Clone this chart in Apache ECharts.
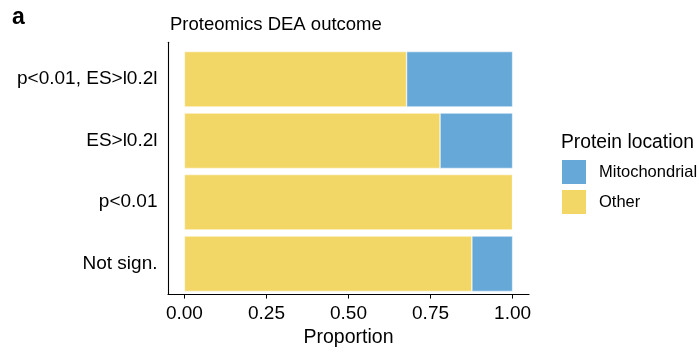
<!DOCTYPE html>
<html>
<head>
<meta charset="utf-8">
<script src="https://cdn.jsdelivr.net/npm/echarts@6/dist/echarts.min.js"></script>
<style>html,body{margin:0;padding:0;background:#fff}#c{width:699px;height:353px}</style>
</head>
<body>
<div id="c"></div>
<script>
// Data (categories listed bottom to top)
var categories = ['Not sign.', 'p<0.01', 'ES>l0.2l', 'p<0.01, ES>l0.2l'];
var otherValues = [0.876, 1.0, 0.779, 0.677];
var mitoValues = [0.124, 0.0, 0.221, 0.323];
var xTicks = [0, 0.25, 0.5, 0.75, 1.0];
var seriesNames = ['Mitochondrial', 'Other'];
var colors = { 'Mitochondrial': '#66A9D9', 'Other': '#F3D766' };

var FONT = '"Liberation Sans", Arial, Helvetica, sans-serif';
var chart = echarts.init(document.getElementById('c'), null, { renderer: 'canvas' });

var option = {
  animation: false,
  backgroundColor: '#ffffff',
  textStyle: { fontFamily: FONT, color: '#000' },
  title: [
    { text: 'a', left: 12, top: 6, padding: 0, textStyle: { fontFamily: FONT, fontSize: 23, fontWeight: 'bold', color: '#000' } },
    { text: 'Proteomics DEA outcome', left: 170, top: 15, padding: 0, textStyle: { fontFamily: FONT, fontSize: 18.5, fontWeight: 'normal', color: '#000' } },
    { text: 'Protein location', left: 561, top: 133, padding: 0, textStyle: { fontFamily: FONT, fontSize: 19.3, fontWeight: 'normal', color: '#000' } }
  ],
  legend: {
    data: seriesNames,
    orient: 'vertical',
    left: 560,
    top: 158,
    padding: 0,
    itemWidth: 26,
    itemHeight: 26,
    itemGap: 2,
    icon: 'rect',
    textStyle: { fontFamily: FONT, fontSize: 16.5, color: '#000', padding: [0, 0, 0, 7] }
  },
  grid: [
    { left: 168, right: 170, top: 48.5, bottom: 58.5, containLabel: false },
    { left: 168, right: 170, top: 42.3, bottom: 52.3, containLabel: false }
  ],
  xAxis: [
    { gridIndex: 0, type: 'value', min: -0.05, max: 1.05, show: false },
    {
      gridIndex: 1, type: 'value', min: -0.05, max: 1.05,
      axisLine: { show: true, onZero: false, lineStyle: { color: '#000', width: 1.1 } },
      axisTick: { show: true, length: 4.5, lineStyle: { color: '#000', width: 1 }, customValues: xTicks },
      axisLabel: { show: true, customValues: xTicks, fontFamily: FONT, fontSize: 19, color: '#000', margin: 10,
        formatter: function (v) { return v.toFixed(2); } },
      splitLine: { show: false },
      name: 'Proportion', nameLocation: 'middle', nameGap: 31,
      nameTextStyle: { fontFamily: FONT, fontSize: 19.5, color: '#000' }
    }
  ],
  yAxis: [
    {
      gridIndex: 0, type: 'category', data: categories,
      axisLine: { show: false }, axisTick: { show: false },
      axisLabel: { fontFamily: FONT, fontSize: 19, color: '#000', margin: 10.5 },
      splitLine: { show: false }
    },
    {
      gridIndex: 1, type: 'value', min: 0, max: 1,
      axisLine: { show: true, onZero: false, lineStyle: { color: '#000', width: 1.1 } },
      axisTick: { show: false }, axisLabel: { show: false }, splitLine: { show: false }
    }
  ],
  series: [
    {
      name: 'Other', type: 'bar', stack: 'total', xAxisIndex: 0, yAxisIndex: 0,
      data: otherValues, barWidth: '90%',
      itemStyle: { color: colors['Other'], borderColor: '#ffffff', borderWidth: 0.5 }
    },
    {
      name: 'Mitochondrial', type: 'bar', stack: 'total', xAxisIndex: 0, yAxisIndex: 0,
      data: mitoValues, barWidth: '90%',
      itemStyle: { color: colors['Mitochondrial'], borderColor: '#ffffff', borderWidth: 0.5 }
    }
  ]
};
chart.setOption(option);
</script>
</body>
</html>
